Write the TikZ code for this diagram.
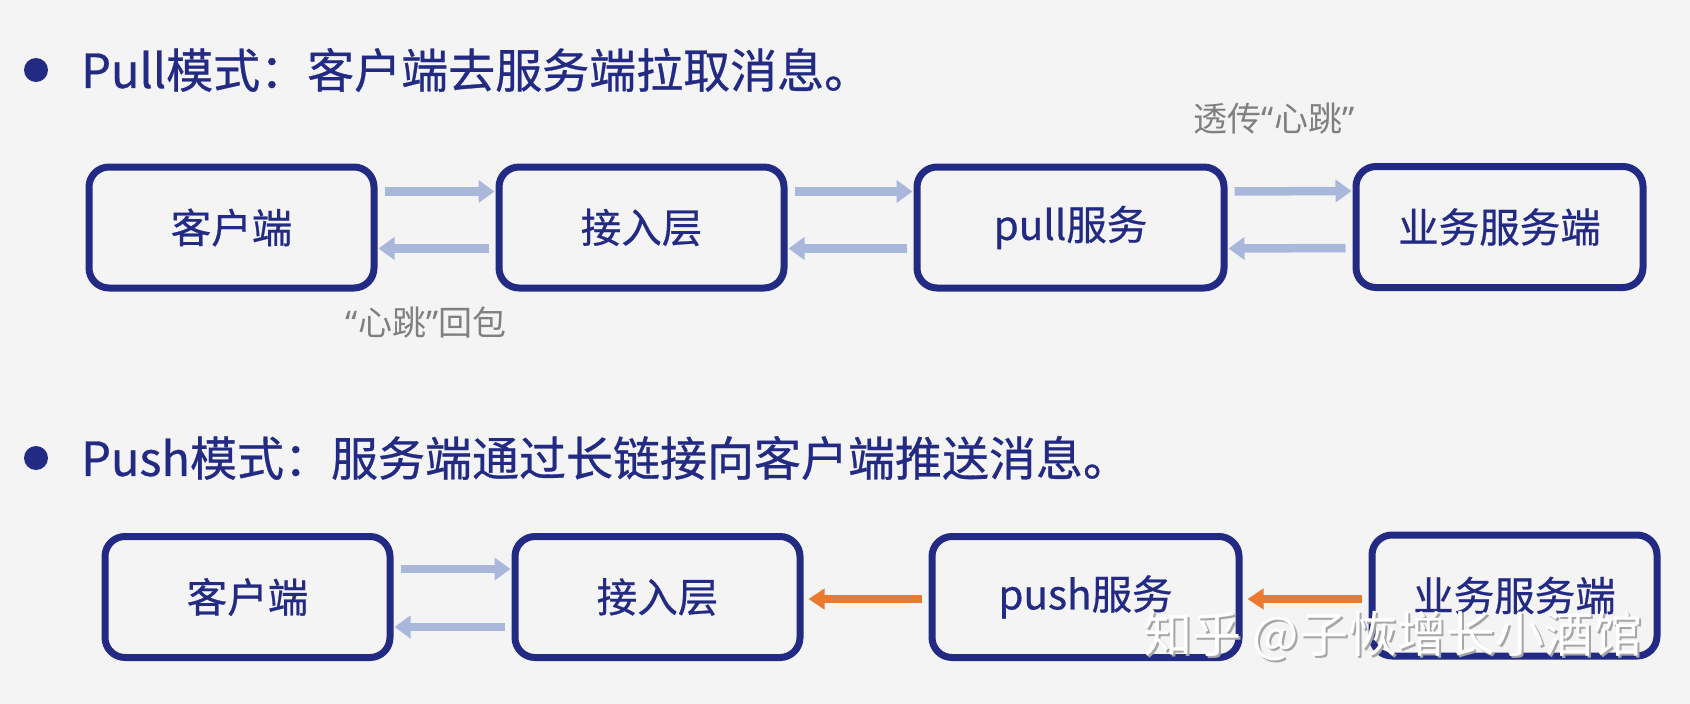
\documentclass[tikz,border=0pt]{standalone}
\usepackage{fontspec}
\setmainfont{Noto Sans CJK SC}
\newfontfamily\heavy{Noto Sans CJK SC}[FakeBold=0.6]
\newfontfamily\qfont{Noto Sans}
\newcommand{\myLq}{{\qfont“}}
\newcommand{\myRq}{{\qfont”}}
\usetikzlibrary{arrows.meta}
\definecolor{bgc}{RGB}{244,244,244}
\definecolor{navy}{RGB}{34,42,132}
\definecolor{lav}{RGB}{169,183,219}
\definecolor{orng}{RGB}{234,122,48}
\definecolor{lblgray}{RGB}{128,128,128}
\tikzset{
  box/.style={draw=navy, line width=7pt, rounded corners=20pt, fill=bgc,
    minimum height=121pt, text=navy, font=\heavy\fontsize{40.5}{44}\selectfont, inner sep=0pt},
  flow/.style={draw=lav, line width=8.5pt, -{Triangle[width=22pt,length=16pt]},
    shorten <=7pt, shorten >=1pt},
  pushflow/.style={draw=orng, line width=7.5pt, -{Triangle[width=20pt,length=16pt]},
    shorten <=7pt, shorten >=5pt},
  title/.style={text=navy, font=\heavy\fontsize{47}{52}\selectfont, anchor=west, inner sep=0pt},
  lbl/.style={text=lblgray, font=\fontsize{34}{38}\selectfont, inner sep=0pt},
  bullet/.style={circle, fill=navy, minimum size=24pt, inner sep=0pt},
}
\begin{document}
\begin{tikzpicture}[x=1pt,y=-1pt]
\fill[bgc] (0,0) rectangle (1690,704);
\useasboundingbox (0,0) rectangle (1690,704);
% titles
\node[bullet] (b1) at (36,70) {};
\node[title] (t1) at (81,70) {Pull模式：客户端去服务端拉取消息。};
\node[bullet] (b2) at (36,458) {};
\node[title] (t2) at (81,458) {Push模式：服务端通过长链接向客户端推送消息。};
% row 1
\node[box, minimum width=285pt] (c1) at (231.5,227.5) {客户端};
\node[box, minimum width=285pt] (a1) at (641.5,227.5) {接入层};
\node[box, minimum width=307pt] (p1) at (1070.5,227.5) {pull服务};
\node[box, minimum width=287pt] (s1) at (1499.5,227) {业务服务端};
\draw[flow] ([yshift=36pt]c1.east) -- ([yshift=36pt]a1.west);
\draw[flow] ([yshift=-21pt]a1.west) -- ([yshift=-21pt]c1.east);
\draw[flow] ([yshift=36pt]a1.east) -- ([yshift=36pt]p1.west);
\draw[flow] ([yshift=-21pt]p1.west) -- ([yshift=-21pt]a1.east);
\draw[flow] ([yshift=36pt]p1.east) -- ([yshift=36pt]s1.west);
\draw[flow] ([yshift=-21pt]s1.west) -- ([yshift=-21pt]p1.east);
\node[lbl] (l1) at (1274,119) {透传\myLq 心跳\myRq};
\node[lbl] (l2) at (426,323) {\myLq 心跳\myRq 回包};
% row 2
\node[box, minimum width=285pt] (c2) at (247.5,597) {客户端};
\node[box, minimum width=285pt] (a2) at (657.5,597) {接入层};
\node[box, minimum width=307pt] (p2) at (1085.5,597) {push服务};
\node[box, minimum width=285pt] (s2) at (1514.5,595.5) {业务服务端};
\draw[flow] ([yshift=28pt]c2.east) -- ([yshift=28pt]a2.west);
\draw[flow] ([yshift=-30pt]a2.west) -- ([yshift=-30pt]c2.east);
\draw[pushflow] (p2.west |- 0,599) -- (a2.east |- 0,599);
\draw[pushflow] (s2.west |- 0,599) -- (p2.east |- 0,599);
% watermark
\node[text=gray!70, font=\fontsize{49}{52}\selectfont, inner sep=0pt] (wms) at (1395,638) {知乎 @子恢增长小酒馆};
\node[text=white, font=\fontsize{49}{52}\selectfont, inner sep=0pt] (wm) at (1393,636) {知乎 @子恢增长小酒馆};
\end{tikzpicture}
\end{document}
